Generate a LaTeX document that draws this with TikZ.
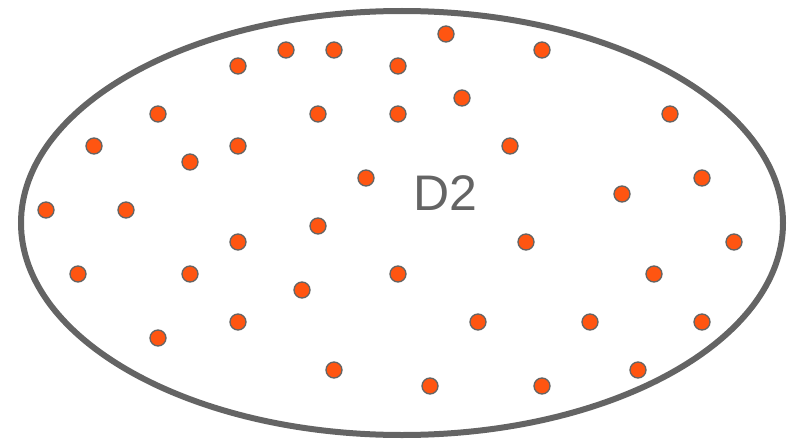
\documentclass[tikz,border=0pt]{standalone}
\usepackage{fontspec}
\setmainfont{Liberation Sans}
\definecolor{edgegray}{RGB}{100,100,100}
\definecolor{dotorange}{RGB}{255,85,17}
\begin{document}
\begin{tikzpicture}[x=1pt,y=-1pt,
  dot/.style={circle,fill=dotorange,draw=edgegray,line width=1.3pt,minimum size=16pt,inner sep=0pt},
  setborder/.style={draw=edgegray,line width=6pt}]
\useasboundingbox (0,0) rectangle (787,444);
\draw[setborder] (402,223) ellipse [x radius=381, y radius=212];
\node[text=edgegray,font=\fontsize{50}{50}\selectfont] (label) at (445,193) {D2};
\foreach \x/\y [count=\i] in {446/34,286/50,334/50,542/50,238/66,398/66,462/98,158/114,318/114,398/114,670/114,94/146,238/146,510/146,190/162,366/178,702/178,622/194,46/210,126/210,318/226,238/242,526/242,734/242,78/274,190/274,398/274,654/274,302/290,238/322,478/322,590/322,702/322,158/338,334/370,638/370,430/386,542/386}
  \node[dot] (d\i) at (\x,\y) {};
\end{tikzpicture}
\end{document}
